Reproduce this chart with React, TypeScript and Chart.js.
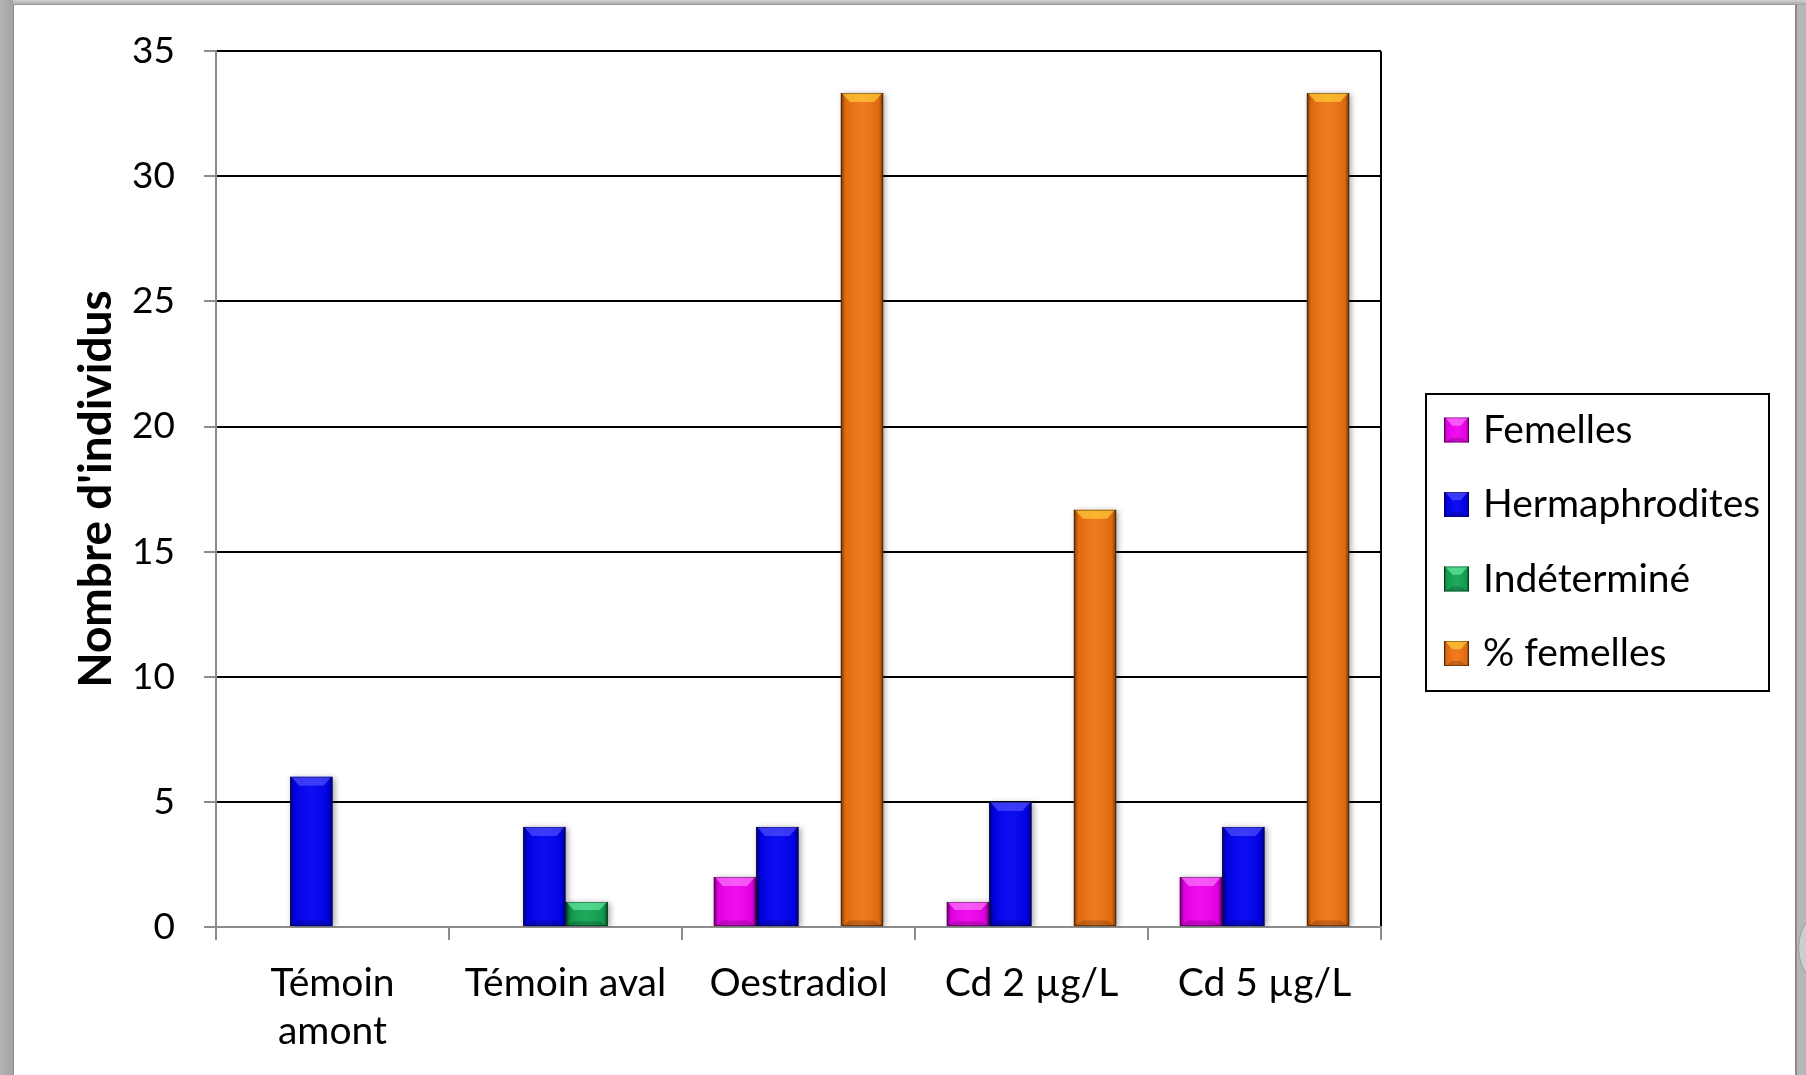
import React, { useEffect, useRef } from 'react';
import { Chart, registerables } from 'chart.js';

Chart.register(...registerables);

// ---- data ----
const categories: (string | string[])[] = [['Témoin', 'amont'], 'Témoin aval', 'Oestradiol', 'Cd 2 µg/L', 'Cd 5 µg/L'];
const seriesNames = ['Femelles', 'Hermaphrodites', 'Indéterminé', '% femelles'];
const femelles = [0, 0, 2, 1, 2];
const hermaphrodites = [6, 4, 4, 5, 4];
const indetermine = [0, 1, 0, 0, 0];
const pctFemelles = [0, 0, 33.33, 16.67, 33.33];
const yMin = 0;
const yMax = 35;
const yStep = 5;
const yTitle = "Nombre d'individus";

const seriesData = [femelles, hermaphrodites, indetermine, pctFemelles];

// ---- colours (base fill, light bevel) ----
const palette = [
  { base: '#f000f0', light: 'rgba(255,140,255,0.85)' },
  { base: '#0000f2', light: 'rgba(90,90,255,0.85)' },
  { base: '#12a553', light: 'rgba(110,240,170,0.9)' },
  { base: '#f07312', light: 'rgba(255,215,60,0.9)' },
];

const FONT = 'Lato, "Open Sans", sans-serif';

// Beveled look painted over a filled rectangle
function paintGloss(ctx: CanvasRenderingContext2D, left: number, top: number, w: number, h: number, light: string) {
  ctx.save();
  const g = ctx.createLinearGradient(left, 0, left + w, 0);
  g.addColorStop(0, 'rgba(0,0,0,0.55)');
  g.addColorStop(0.1, 'rgba(0,0,0,0.08)');
  g.addColorStop(0.5, 'rgba(255,255,255,0.05)');
  g.addColorStop(0.9, 'rgba(0,0,0,0.08)');
  g.addColorStop(1, 'rgba(0,0,0,0.55)');
  ctx.fillStyle = g;
  ctx.fillRect(left, top, w, h);

  const bev = Math.min(9, h / 3, w / 3);
  // top bevel
  ctx.fillStyle = light;
  ctx.beginPath();
  ctx.moveTo(left + 1, top);
  ctx.lineTo(left + w - 1, top);
  ctx.lineTo(left + w - bev, top + bev);
  ctx.lineTo(left + bev, top + bev);
  ctx.closePath();
  ctx.globalAlpha = 0.7;
  ctx.fill();
  // bottom bevel
  ctx.globalAlpha = 1;
  ctx.fillStyle = 'rgba(0,0,0,0.18)';
  ctx.beginPath();
  ctx.moveTo(left + 1, top + h);
  ctx.lineTo(left + w - 1, top + h);
  ctx.lineTo(left + w - bev, top + h - bev * 0.6);
  ctx.lineTo(left + bev, top + h - bev * 0.6);
  ctx.closePath();
  ctx.fill();
  // outline
  ctx.strokeStyle = 'rgba(0,0,0,0.35)';
  ctx.lineWidth = 1;
  ctx.strokeRect(left + 0.5, top + 0.5, w - 1, h - 1);
  ctx.restore();
}

const glossPlugin = {
  id: 'gloss',
  beforeDatasetsDraw(chart: any) {
    const ctx = chart.ctx as CanvasRenderingContext2D;
    ctx.save();
    ctx.shadowColor = 'rgba(0,0,0,0.35)';
    ctx.shadowBlur = 6;
    ctx.shadowOffsetX = 2;
    ctx.shadowOffsetY = 1;
  },
  afterDatasetsDraw(chart: any) {
    const ctx = chart.ctx as CanvasRenderingContext2D;
    ctx.restore();
    chart.data.datasets.forEach((_ds: any, i: number) => {
      const meta = chart.getDatasetMeta(i);
      meta.data.forEach((el: any) => {
        const { x, y, base, width } = el.getProps(['x', 'y', 'base', 'width'], true);
        const h = base - y;
        if (h < 1) return;
        paintGloss(ctx, x - width / 2, y, width, h, palette[i].light);
      });
    });
  },
};

const legendBoxPlugin = {
  id: 'legendBox',
  afterDraw(chart: any, _args: any, opts: any) {
    const ctx = chart.ctx as CanvasRenderingContext2D;
    ctx.save();
    ctx.strokeStyle = '#000';
    ctx.lineWidth = 2;
    ctx.strokeRect(opts.left, opts.top, opts.width, opts.height);
    ctx.font = `${opts.fontSize}px ${FONT}`;
    ctx.textBaseline = 'middle';
    ctx.textAlign = 'left';
    chart.data.datasets.forEach((ds: any, i: number) => {
      const cy = opts.firstRow + i * opts.rowGap;
      const s = opts.marker;
      const mx = opts.markerX;
      const my = cy - s / 2;
      ctx.fillStyle = palette[i].base;
      ctx.fillRect(mx, my, s, s);
      paintGloss(ctx, mx, my, s, s, palette[i].light);
      ctx.fillStyle = '#000';
      ctx.fillText(ds.label, opts.textX, cy);
    });
    ctx.restore();
  },
};

export default function App() {
  const ref = useRef<HTMLCanvasElement>(null);

  useEffect(() => {
    const canvas = ref.current;
    if (!canvas) return;
    const chart = new Chart(canvas, {
      type: 'bar',
      data: {
        labels: categories,
        datasets: seriesNames.map((name, i) => ({
          label: name,
          data: seriesData[i],
          backgroundColor: palette[i].base,
          borderWidth: 0,
          categoryPercentage: 0.727,
          barPercentage: 1,
        })),
      },
      options: {
        responsive: false,
        animation: false,
        devicePixelRatio: 1,
        layout: { padding: { left: 16, top: 49, right: 425, bottom: 28 } },
        plugins: {
          legend: { display: false },
          tooltip: { enabled: false },
          legendBox: {
            left: 1426, top: 394, width: 343, height: 297,
            firstRow: 430, rowGap: 74.5, marker: 25, markerX: 1444, textX: 1483, fontSize: 39,
          },
        } as any,
        scales: {
          x: {
            grid: {
              color: (c: any) => (c.type === 'scale' ? '#000' : 'rgba(0,0,0,0)'),
              lineWidth: 2,
              tickColor: '#8c8c8c',
              tickWidth: 2,
              tickLength: 13,
              offset: true,
            },
            border: { color: '#8c8c8c', width: 2 },
            ticks: {
              font: { family: FONT, size: 39, lineHeight: 1.23 },
              color: '#000',
              padding: 19,
              maxRotation: 0,
              autoSkip: false,
            },
            afterFit: (s: any) => { s.height = 120; },
          },
          y: {
            min: yMin,
            max: yMax,
            grid: {
              color: (c: any) => (c.tick && c.tick.value === 0 ? 'rgba(0,0,0,0)' : '#000'),
              lineWidth: 2,
              tickColor: '#8c8c8c',
              tickWidth: 2,
              tickLength: 12,
            },
            border: { color: '#8c8c8c', width: 2 },
            ticks: {
              stepSize: yStep,
              font: { family: FONT, size: 37 },
              color: '#000',
              padding: 29,
            },
            title: {
              display: true,
              text: yTitle,
              font: { family: FONT, size: 46, weight: 'bold' },
              color: '#000',
              padding: { top: 53, bottom: 0 },
            },
            afterFit: (s: any) => { s.width = 200; },
          },
        },
      } as any,
      plugins: [glossPlugin, legendBoxPlugin],
    });
    return () => chart.destroy();
  }, []);

  return (
    <div style={{ position: 'fixed', left: 0, top: 0, width: 1806, height: 1075, background: '#b7b7b7', overflow: 'hidden' }}>
      <div style={{ position: 'absolute', left: 0, top: 0, width: 1806, height: 5, background: 'linear-gradient(#d2d2d2, #a4a4a4)' }} />
      <div style={{ position: 'absolute', left: 0, top: 0, width: 13, height: 1075, background: 'linear-gradient(90deg, #b4b4b4, #a2a2a2)' }} />
      <div
        style={{
          position: 'absolute', left: 13, top: 4, width: 1784, height: 1071, background: '#fff',
          borderLeft: '1px solid #8a8a8a', borderTop: '1px solid #9a9a9a', borderRight: '2px solid #8a8a8a',
          boxSizing: 'border-box',
        }}
      />
      <div
        style={{
          position: 'absolute', left: 1798, top: 900, width: 96, height: 96, borderRadius: '50%',
          background: '#cdcdcd', border: '1px solid #9c9c9c', boxSizing: 'border-box',
        }}
      />
      <canvas ref={ref} width={1806} height={1075} style={{ position: 'absolute', left: 0, top: 0, width: 1806, height: 1075 }} />
    </div>
  );
}
